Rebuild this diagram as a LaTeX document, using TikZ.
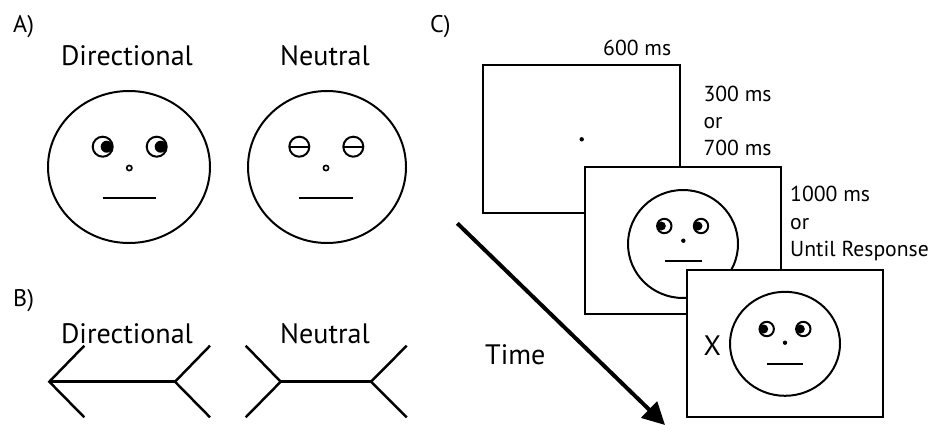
\documentclass[tikz,border=0pt]{standalone}
\usepackage{fontspec}
\setmainfont{PT Sans}
\usetikzlibrary{arrows.meta}
\begin{document}
\begin{tikzpicture}[x=0.03cm,y=-0.03cm,
  outline/.style={line width=1.7pt},
  thinline/.style={line width=1.4pt},
  shaft/.style={line width=2.1pt,line join=miter},
  screen/.style={line width=1.7pt,fill=white},
  head/.style={font=\fontsize{24}{28}\selectfont,inner sep=0pt},
  label/.style={font=\fontsize{20.5}{25}\selectfont,inner sep=0pt,anchor=base west},
  timing/.style={font=\fontsize{18.5}{22}\selectfont,inner sep=0pt,anchor=base west}]
\useasboundingbox (0,0) rectangle (933,425);

% ---------------- A) faces ----------------
\node[label] (la) at (13,33) {A)};
\node[head,anchor=base] (ad) at (127,66) {Directional};
\node[head,anchor=base] (an) at (325,66) {Neutral};

% directional face: gaze to the right
\draw[outline] (129,167) ellipse [x radius=81, y radius=76];
\draw[outline] (102.7,146.7) circle [radius=10];
\draw[outline] (156.7,146.7) circle [radius=10];
\fill (106.7,146.7) circle [radius=6];
\fill (160.7,146.7) circle [radius=6];
\draw[thinline] (129.3,168) circle [radius=2.6];
\draw[outline] (102.7,198) -- (156,198);

% neutral face: eyes split by a bar
\draw[outline] (327,167) ellipse [x radius=79, y radius=76];
\draw[outline] (299.3,146.7) circle [radius=10];
\draw[outline] (353.3,146.7) circle [radius=10];
\draw[outline] (289.3,146.7) -- (309.3,146.7);
\draw[outline] (343.3,146.7) -- (363.3,146.7);
\draw[thinline] (326,168) circle [radius=2.6];
\draw[outline] (299,198) -- (352.7,198);

% ---------------- B) arrows ----------------
\node[label] (lb) at (13,306) {B)};
\node[head,anchor=base] (bd) at (127,343) {Directional};
\node[head,anchor=base] (bn) at (325,343) {Neutral};

\draw[shaft] (84.3,345.7) -- (49.3,381.7) -- (84.3,417.3);
\draw[shaft] (49.3,381.7) -- (175,381.7);
\draw[shaft] (210,345.7) -- (175,381.7) -- (210,417.3);

\draw[shaft] (245.7,345.7) -- (280.7,381.7) -- (245.7,417.3);
\draw[shaft] (280.7,381.7) -- (371,381.7);
\draw[shaft] (406.7,345.7) -- (371,381.7) -- (406.7,417.3);

% ---------------- C) trial sequence ----------------
\node[label] (lc) at (430,33) {C)};

% fixation screen
\draw[screen] (483.3,65) rectangle (680,213.3);
\fill (581.7,139.3) circle [radius=2.2];
\node[timing] (t1) at (603,56) {600 ms};
\node[timing] (t2a) at (703.3,101.7) {300 ms};
\node[timing] (t2b) at (703.3,128.4) {or};
\node[timing] (t2c) at (703.3,155) {700 ms};

% cue screen
\draw[screen] (585,167.3) rectangle (781,314.3);
\draw[outline] (683,244) ellipse [x radius=55, y radius=54];
\draw[outline] (664.3,226) circle [radius=7.2];
\draw[outline] (701,226) circle [radius=7.2];
\fill (661.3,226) circle [radius=4.5];
\fill (698,226) circle [radius=4.5];
\fill (683.3,240.7) circle [radius=2.2];
\draw[outline] (665,261) -- (701.7,261);
\node[timing] (t3a) at (790,201.7) {1000 ms};
\node[timing] (t3b) at (790,229.2) {or};
\node[timing] (t3c) at (790,256.7) {Until Response};

% target screen
\draw[screen] (686.7,270) rectangle (883.3,416.7);
\draw[outline] (785,343.8) ellipse [x radius=55, y radius=52];
\draw[outline] (766.7,329) circle [radius=7.2];
\draw[outline] (803.3,329) circle [radius=7.2];
\fill (763.7,329) circle [radius=4.5];
\fill (800.3,329) circle [radius=4.5];
\fill (785,342.7) circle [radius=2.2];
\draw[outline] (766.7,364) -- (803.3,364);
\node[head,anchor=base] (x) at (712.3,355) {X};

% time axis
\coordinate (ts) at (457.3,223.3);
\coordinate (te) at (665,425);
\draw[line width=3.4pt,-{Triangle[length=19pt,width=19pt]}] (ts) -- (te);
\node[head,anchor=base west] (time) at (485,364) {Time};
\end{tikzpicture}
\end{document}
